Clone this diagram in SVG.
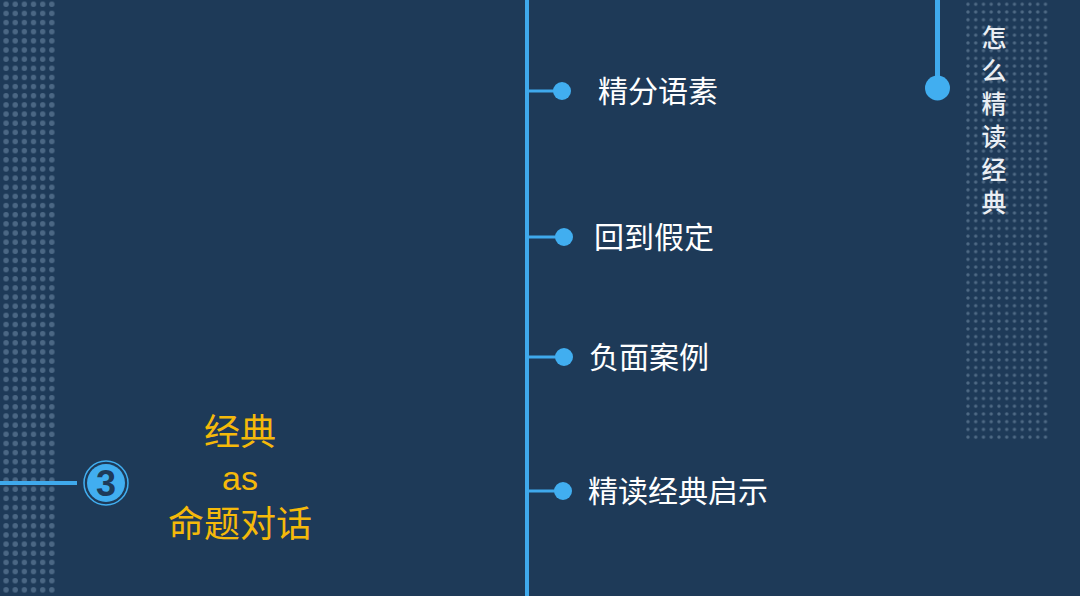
<svg xmlns="http://www.w3.org/2000/svg" width="1080" height="596" viewBox="0 0 1080 596">
<defs>
<pattern id="dotsL" x="1.5" y="-0.3" width="9.15" height="9.15" patternUnits="userSpaceOnUse"><circle cx="4.57" cy="4.57" r="2.7" fill="#4b6784"/></pattern>
<pattern id="dotsR" x="964.1" y="0.4" width="7.75" height="7.73" patternUnits="userSpaceOnUse"><circle cx="3.87" cy="3.87" r="1.7" fill="#4f6a85"/></pattern>
<style>
.ln{stroke:#3fa9ec;fill:none}
.dot{fill:#41aef0}
.item{font-family:"Noto Sans CJK SC","Noto Sans",sans-serif;font-size:30px;fill:#ffffff}
.gold{font-family:"Noto Sans CJK SC","Liberation Sans",sans-serif;font-size:36px;fill:#f5b90a;text-anchor:middle}
.latin{font-family:"Liberation Sans",sans-serif;font-size:34px}
.vt{font-family:"Noto Sans CJK SC",sans-serif;font-size:25px;font-weight:500;fill:#eaeef3;text-anchor:middle}
</style>
</defs>
<rect width="1080" height="596" fill="#1e3a58"/>
<rect x="0" y="0" width="57" height="596" fill="url(#dotsL)"/>
<rect x="964" y="0" width="86" height="441" fill="url(#dotsR)"/>

<g id="connectors">
<line class="ln" x1="527" y1="0" x2="527" y2="596" stroke-width="4"/>
<line class="ln" x1="527" y1="91" x2="556" y2="91" stroke-width="3"/>
<line class="ln" x1="527" y1="237" x2="558" y2="237" stroke-width="3"/>
<line class="ln" x1="527" y1="357" x2="558" y2="357" stroke-width="3"/>
<line class="ln" x1="527" y1="491" x2="556" y2="491" stroke-width="3"/>
<line class="ln" x1="937.5" y1="0" x2="937.5" y2="80" stroke-width="5"/>
<line class="ln" x1="0" y1="483" x2="77" y2="483" stroke-width="4"/>
</g>

<g id="node-title">
<circle class="dot" cx="937.5" cy="88" r="12.5"/>
<text class="vt" x="994" y="47">怎</text>
<text class="vt" x="994" y="80">么</text>
<text class="vt" x="994" y="113">精</text>
<text class="vt" x="994" y="146">读</text>
<text class="vt" x="994" y="179">经</text>
<text class="vt" x="994" y="212">典</text>
</g>

<g id="node-1">
<circle class="dot" cx="562" cy="91" r="9"/>
<text class="item" x="598" y="102">精分语素</text>
</g>
<g id="node-2">
<circle class="dot" cx="564" cy="237" r="9"/>
<text class="item" x="594" y="248">回到假定</text>
</g>
<g id="node-3">
<circle class="dot" cx="564" cy="357" r="9"/>
<text class="item" x="589" y="368">负面案例</text>
</g>
<g id="node-4">
<circle class="dot" cx="563" cy="491" r="9"/>
<text class="item" x="588" y="502">精读经典启示</text>
</g>

<g id="node-3-badge">
<circle cx="106" cy="483" r="22" fill="none" stroke="#41aef0" stroke-width="1.5"/>
<circle cx="106" cy="483" r="19" fill="#41aef0"/>
<text x="106" y="496" text-anchor="middle" font-family="Liberation Sans" font-weight="bold" font-size="36" fill="#1e3a58">3</text>
</g>

<g id="node-main">
<text class="gold" x="240" y="445">经典</text>
<text class="gold latin" x="240" y="490">as</text>
<text class="gold" x="240" y="537">命题对话</text>
</g>
</svg>
